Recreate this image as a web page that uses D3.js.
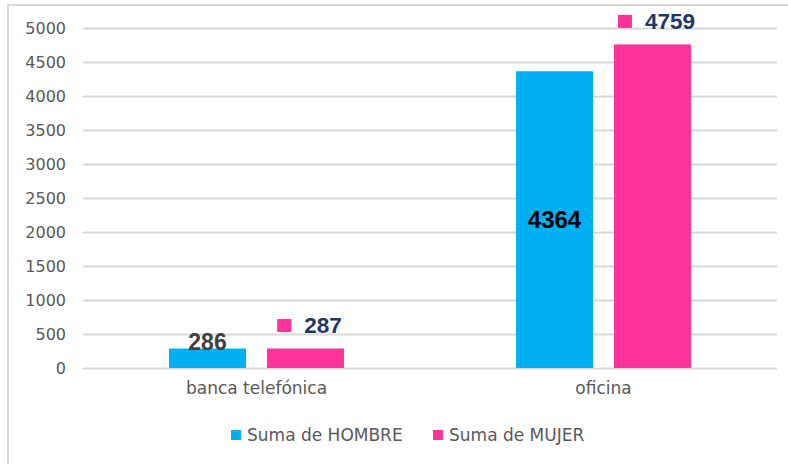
<!DOCTYPE html>
<html><head><meta charset="utf-8">
<script src="https://cdn.jsdelivr.net/npm/d3@7"></script>
<style>html,body{margin:0;padding:0;background:#fff;}svg{display:block;}</style>
</head><body>
<svg id="c" width="788" height="464"></svg>
<script>
const categories = ["banca telefónica", "oficina"];
const seriesNames = ["Suma de HOMBRE", "Suma de MUJER"];
const hombre = [286, 4364];
const mujer = [287, 4759];
const yTicks = [0, 500, 1000, 1500, 2000, 2500, 3000, 3500, 4000, 4500, 5000];
const colors = ["#00B0F0", "#FF3399"];

const svg = d3.select("#c");
svg.append("rect").attr("x", 8).attr("y", 5).attr("width", 800).attr("height", 500)
  .attr("fill", "none").attr("stroke", "#D9D9D9").attr("stroke-width", 2);

const x0 = d3.scaleBand().domain(categories).range([83, 777]).paddingInner(0).paddingOuter(0);
const x1 = d3.scaleBand().domain([0, 1]).range([0, x0.bandwidth()]).paddingInner(0.214).paddingOuter(0.878);
const y = d3.scaleLinear().domain([0, 5000]).range([368, 28]);

const yAxis = svg.append("g").attr("transform", "translate(83,0)")
  .call(d3.axisLeft(y).tickValues(yTicks).tickFormat(d3.format("d")).tickSize(-694).tickPadding(17));
yAxis.select(".domain").remove();
yAxis.selectAll(".tick line").attr("stroke", "#D9D9D9").attr("stroke-width", 2);
yAxis.selectAll(".tick text").attr("fill", "#595959").style("font-family", "DejaVu Sans").style("font-size", "16px");

const xAxis = svg.append("g").attr("transform", "translate(0,368)")
  .call(d3.axisBottom(x0).tickSize(0).tickPadding(14));
xAxis.select(".domain").remove();
xAxis.selectAll(".tick text").attr("fill", "#595959").style("font-family", "DejaVu Sans").style("font-size", "17px");

const series = [hombre, mujer];
series.forEach((vals, si) => {
  categories.forEach((cat, ci) => {
    const v = vals[ci];
    svg.append("rect")
      .attr("x", x0(cat) + x1(si)).attr("width", x1.bandwidth())
      .attr("y", y(v)).attr("height", y(0) - y(v))
      .attr("fill", colors[si]);
  });
});

// HOMBRE labels
categories.forEach((cat, ci) => {
  const v = hombre[ci];
  const cx = x0(cat) + x1(0) + x1.bandwidth() / 2;
  const inside = ci === 1;
  svg.append("text").text(v)
    .attr("x", cx).attr("text-anchor", "middle")
    .attr("y", inside ? (y(v) + y(0)) / 2 + 8.5 : y(v) + 1.5)
    .attr("fill", inside ? "#000000" : "#404040")
    .style("font-family", "Liberation Sans").style("font-weight", "bold")
    .style("font-size", inside ? "24px" : "23px");
});

// MUJER labels with marker
categories.forEach((cat, ci) => {
  const v = mujer[ci];
  const cx = x0(cat) + x1(1) + x1.bandwidth() / 2;
  const base = y(v) - 15.5;
  const t = svg.append("text").text(v)
    .attr("y", base).attr("fill", "#1F3864")
    .style("font-family", "Liberation Sans").style("font-weight", "bold").style("font-size", "22.5px");
  const tw = t.node().getComputedTextLength();
  const total = 14 + 13 + tw;
  const left = cx + 4 - total / 2;
  svg.append("rect").attr("x", left).attr("y", base - 14).attr("width", 14).attr("height", 13).attr("fill", colors[1]);
  t.attr("x", left + 27);
});

// Legend
const legendX = [231, 433];
seriesNames.forEach((name, i) => {
  svg.append("rect").attr("x", legendX[i]).attr("y", 430).attr("width", 10).attr("height", 10).attr("fill", colors[i]);
  svg.append("text").text(name).attr("x", legendX[i] + 16).attr("y", 441)
    .attr("fill", "#595959").style("font-family", "DejaVu Sans").style("font-size", "17px");
});
</script>
</body></html>
